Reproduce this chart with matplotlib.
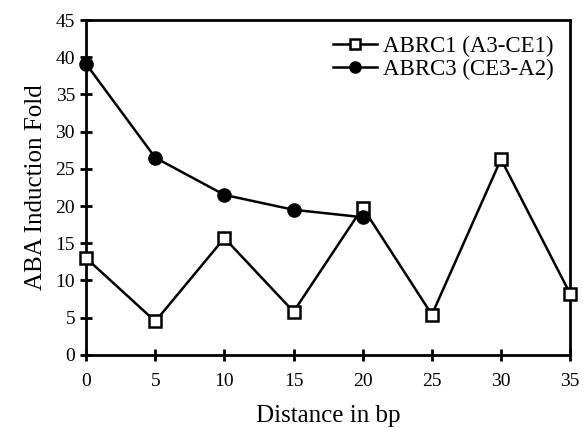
import matplotlib
matplotlib.use("Agg")
import matplotlib.pyplot as plt

# distances (bp) and induction folds
dist1 = [0, 5, 10, 15, 20, 25, 30, 35]
abrc1 = [13.0, 4.5, 15.7, 5.8, 19.8, 5.4, 26.3, 8.2]
dist3 = [0, 5, 10, 15, 20]
abrc3 = [39.1, 26.5, 21.5, 19.5, 18.5]

xticks = [0, 5, 10, 15, 20, 25, 30, 35]
yticks = [0, 5, 10, 15, 20, 25, 30, 35, 40, 45]

plt.rcParams['font.family'] = ['Liberation Serif', 'DejaVu Serif']

fig = plt.figure(figsize=(5.86, 4.28), dpi=100)
ax = fig.add_axes([0.147, 0.171, 0.826, 0.782])

ax.plot(dist1, abrc1, color='black', lw=1.8, marker='s', ms=9,
        mfc='white', mec='black', mew=1.8, label='ABRC1 (A3-CE1)',
        zorder=3, clip_on=False)
ax.plot(dist3, abrc3, color='black', lw=1.8, marker='o', ms=9.5,
        mfc='black', mec='black', label='ABRC3 (CE3-A2)',
        zorder=4, clip_on=False)

ax.set_xlim(0, 35)
ax.set_ylim(0, 45)
ax.set_xticks(xticks)
ax.set_yticks(yticks)
for s in ax.spines.values():
    s.set_linewidth(2)
ax.tick_params(direction='inout', length=8, width=2, labelsize=14)
ax.tick_params(axis='x', pad=9)
ax.tick_params(axis='y', pad=4)
ax.set_xlabel('Distance in bp', fontsize=18, labelpad=11)
ax.set_ylabel('ABA Induction Fold', fontsize=18, labelpad=6)

ax.legend(loc='upper right', frameon=False, fontsize=16.5, handlelength=1.9,
          handletextpad=0.3, borderaxespad=0.3, labelspacing=0.05,
          markerscale=0.85)

fig.savefig('out.png', dpi=100)
